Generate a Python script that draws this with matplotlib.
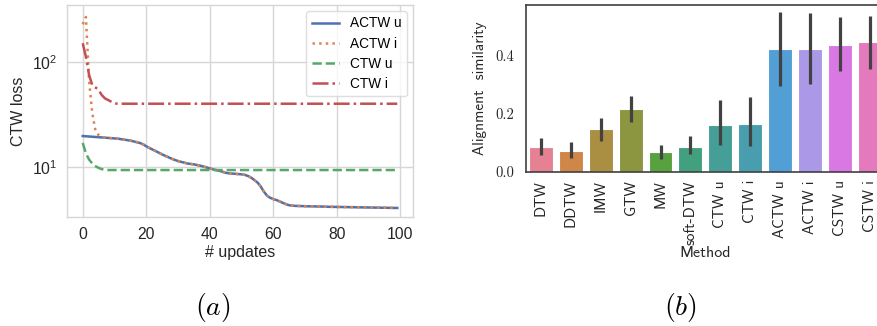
import matplotlib
matplotlib.use("Agg")
import matplotlib.pyplot as plt
import numpy as np
import seaborn as sns
from matplotlib.ticker import NullLocator

# ---------------- data: panel (a) ----------------
updates = list(range(100))
actw_u = [19.9, 19.8, 19.7, 19.6, 19.5, 19.4, 19.3, 19.2, 19.1, 19.0,
          18.9, 18.8, 18.6, 18.4, 18.2, 18.0, 17.7, 17.4, 17.1, 16.6,
          15.9, 15.3, 14.8, 14.3, 13.8, 13.3, 12.9, 12.5, 12.1, 11.8,
          11.5, 11.3, 11.1, 10.9, 10.8, 10.7, 10.55, 10.4, 10.2, 10.0,
          9.8, 9.6, 9.45, 9.3, 9.1, 8.9, 8.8, 8.75, 8.7, 8.65,
          8.6, 8.5, 8.3, 8.0, 7.6, 7.2, 6.6, 5.9, 5.4, 5.15,
          5.0, 4.9, 4.75, 4.6, 4.47, 4.37, 4.33, 4.31, 4.30, 4.29,
          4.28, 4.27, 4.27, 4.26, 4.25, 4.25, 4.24, 4.23, 4.22, 4.22,
          4.21, 4.21, 4.20, 4.20, 4.19, 4.19, 4.18, 4.18, 4.17, 4.17,
          4.16, 4.16, 4.15, 4.15, 4.14, 4.14, 4.13, 4.13, 4.12, 4.12]
actw_i_head = [230, 270, 67, 33, 22.5, 20.3, 19.4]
actw_i = actw_i_head + actw_u[len(actw_i_head):]
ctw_u_head = [17.1, 13.6, 11.9, 10.9, 10.3, 9.9, 9.64, 9.5]
ctw_u = ctw_u_head + [9.45] * (100 - len(ctw_u_head))
ctw_i_head = [152, 113, 75.7, 60.8, 57.8, 54.5, 48.8, 45.4, 43.8, 42.2, 40.7]
ctw_i = ctw_i_head + [40.4] * (100 - len(ctw_i_head))
series_labels = ["ACTW u", "ACTW i", "CTW u", "CTW i"]
x_ticks_a = [0, 20, 40, 60, 80, 100]

# ---------------- data: panel (b) ----------------
methods = ["DTW", "DDTW", "IMW", "GTW", "MW", "soft-DTW", "CTW u", "CTW i",
           "ACTW u", "ACTW i", "CSTW u", "CSTW i"]
similarity = [0.084, 0.071, 0.146, 0.215, 0.067, 0.086, 0.162, 0.166,
              0.422, 0.422, 0.438, 0.448]
ci_low = [0.057, 0.047, 0.106, 0.171, 0.045, 0.060, 0.091, 0.090,
          0.297, 0.301, 0.347, 0.354]
ci_high = [0.118, 0.101, 0.187, 0.262, 0.092, 0.122, 0.246, 0.257,
           0.549, 0.546, 0.534, 0.538]
y_ticks_b = [0.0, 0.2, 0.4]

plt.rcParams["mathtext.fontset"] = "cm"
plt.rcParams["font.family"] = ["Liberation Sans", "DejaVu Sans"]

fig = plt.figure(figsize=(8.77, 3.26), dpi=100)

# ---------------- panel (a) ----------------
ax1 = fig.add_axes([0.0764, 0.334, 0.3945, 0.651])
ax1.set_facecolor("white")
c_blue, c_orange, c_green, c_red = "#4C72B0", "#DD8452", "#55A868", "#C44E52"
ax1.plot(updates, actw_u, color=c_blue, lw=1.8, ls="-", label=series_labels[0])
ax1.plot(updates, actw_i, color=c_orange, lw=1.8, ls=":", label=series_labels[1])
ax1.plot(updates, ctw_u, color=c_green, lw=1.8, ls="--", label=series_labels[2])
ax1.plot(updates, ctw_i, color=c_red, lw=1.8, ls="-.", label=series_labels[3])
ax1.set_yscale("log")
ax1.set_ylim(3.37, 352)
ax1.set_xlim(-4.95, 103.95)
ax1.set_yticks([10, 100])
ax1.set_yticklabels([r"$\mathregular{10^{1}}$", r"$\mathregular{10^{2}}$"])
ax1.yaxis.set_minor_locator(NullLocator())
ax1.set_xticks(x_ticks_a)
ax1.grid(True, color="#d6d6d6", lw=1.0)
ax1.set_axisbelow(True)
for s in ax1.spines.values():
    s.set_color("#d6d6d6")
    s.set_linewidth(1.0)
ax1.tick_params(length=0, labelsize=11.3, colors="#262626", pad=7)
ax1.set_xlabel("# updates", fontsize=11.5, color="#262626", labelpad=2)
ax1.set_ylabel("CTW loss", fontsize=11.5, color="#262626", labelpad=4)
leg = ax1.legend(loc="upper right", fontsize=9.8, frameon=True,
                 borderaxespad=0.45, handlelength=2.0, labelspacing=0.45)
leg.get_frame().set_edgecolor("#d6d6d6")
leg.get_frame().set_facecolor("white")
leg.get_frame().set_alpha(0.8)

# ---------------- panel (b) ----------------
ax2 = fig.add_axes([0.5994, 0.473, 0.41, 0.512])
pal = sns.color_palette("husl", len(methods))
colors = [sns.desaturate(c, 0.75) for c in pal]
xpos = np.arange(len(methods))
ax2.bar(xpos, similarity, width=0.8, color=colors, edgecolor="white", linewidth=0.8)
for xi, lo, hi in zip(xpos, ci_low, ci_high):
    ax2.plot([xi, xi], [lo, hi], color="#424242", lw=2.3, solid_capstyle="butt")
ax2.set_xlim(-0.5, len(methods) - 0.5)
ax2.set_ylim(0, 0.575)
ax2.set_yticks(y_ticks_b)
ax2.set_yticklabels([f"{v:.1f}" for v in y_ticks_b], fontfamily="cmr10", fontsize=10.5)
ax2.set_xticks(xpos)
ax2.set_xticklabels(methods, rotation=90, fontfamily="cmss10", fontsize=11)
ax2.tick_params(length=0, colors="#262626")
ax2.tick_params(axis="y", pad=8)
ax2.tick_params(axis="x", pad=6)
for s in ax2.spines.values():
    s.set_color("#404040")
    s.set_linewidth(1.2)
ax2.set_xlabel("Method", fontfamily="cmss10", fontsize=11.5, color="#262626", labelpad=1)
ax2.set_ylabel("Alignment  similarity", fontfamily="cmss10", fontsize=11,
               color="#262626", labelpad=6)

fig.text(213 / 877, 1 - 307 / 326, r"$(a)$", fontsize=20, ha="center", va="center")
fig.text(680 / 877, 1 - 307 / 326, r"$(b)$", fontsize=20, ha="center", va="center")

fig.savefig("out.png", dpi=100, facecolor="white")
